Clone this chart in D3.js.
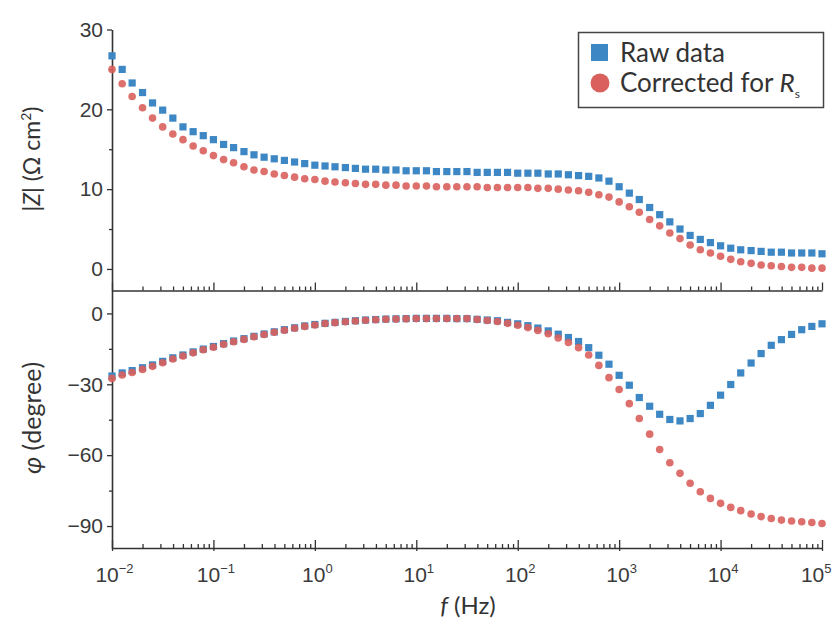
<!DOCTYPE html>
<html>
<head>
<meta charset="utf-8">
<script src="https://cdn.jsdelivr.net/npm/d3@7"></script>
<style>
  body { margin: 0; background: #fff; }
  svg { font-family: "Lato", "Open Sans", sans-serif; }
</style>
</head>
<body>
<div id="chartplace"></div>
<script>
// frequency grid (Hz), 10 points per decade
var freq = [
  0.01,0.0126,0.0158,0.02,0.0251,0.0316,0.0398,0.0501,0.0631,0.0794,
  0.1,0.126,0.158,0.2,0.251,0.316,0.398,0.501,0.631,0.794,
  1,1.26,1.58,2,2.51,3.16,3.98,5.01,6.31,7.94,
  10,12.6,15.8,20,25.1,31.6,39.8,50.1,63.1,79.4,
  100,126,158,200,251,316,398,501,631,794,
  1000,1260,1580,2000,2510,3160,3980,5010,6310,7940,
  10000,12600,15800,20000,25100,31600,39800,50100,63100,79400,
  100000
];
// |Z| raw
var zRaw = [
  26.7,25.0,23.3,22.1,20.8,19.9,18.9,17.8,17.2,16.7,
  16.2,15.6,15.2,14.7,14.3,14.0,13.8,13.6,13.4,13.2,
  13.0,12.9,12.8,12.7,12.6,12.5,12.5,12.4,12.4,12.3,
  12.3,12.3,12.2,12.2,12.2,12.2,12.1,12.1,12.1,12.1,
  12.0,12.0,12.0,11.9,11.9,11.8,11.7,11.6,11.4,11.0,
  10.3,9.5,8.7,7.7,6.8,5.9,5.0,4.2,3.7,3.3,
  2.9,2.6,2.4,2.3,2.2,2.1,2.1,2.0,2.0,2.0,
  1.9
];
// |Z| corrected for Rs
var zCorr = [
  25.0,23.2,21.6,20.2,18.9,17.8,16.9,16.2,15.4,14.8,
  14.2,13.7,13.3,12.8,12.4,12.2,11.9,11.7,11.5,11.3,
  11.2,11.0,10.9,10.8,10.7,10.6,10.6,10.5,10.5,10.4,
  10.4,10.4,10.3,10.3,10.3,10.3,10.3,10.2,10.2,10.2,
  10.2,10.2,10.1,10.1,10.0,9.9,9.8,9.6,9.3,9.0,
  8.4,7.8,7.1,6.2,5.4,4.5,3.8,3.0,2.4,2.0,
  1.6,1.2,0.9,0.7,0.5,0.4,0.3,0.2,0.2,0.1,
  0.1
];
// phase raw
var phRaw = [
  -26.5,-25.2,-24.2,-23.0,-21.8,-20.3,-18.8,-17.6,-16.3,-15.1,
  -14.0,-12.8,-11.7,-10.7,-9.7,-8.7,-7.8,-6.9,-6.1,-5.3,
  -4.7,-4.2,-3.8,-3.4,-3.1,-2.8,-2.6,-2.4,-2.3,-2.2,
  -2.1,-2.1,-2.1,-2.1,-2.2,-2.2,-2.5,-2.8,-3.1,-3.8,
  -4.4,-5.2,-6.2,-7.4,-8.8,-10.2,-11.9,-14.5,-17.7,-21.5,
  -26.2,-30.4,-35.6,-39.3,-42.7,-44.9,-45.5,-44.5,-42.4,-38.9,
  -34.6,-30.1,-25.2,-21.0,-17.0,-13.5,-11.1,-8.9,-6.9,-5.5,
  -4.4
];
// phase corrected
var phCorr = [
  -27.5,-26.1,-25.0,-23.7,-22.4,-20.9,-19.3,-18.0,-16.7,-15.4,
  -14.3,-13.1,-12.0,-11.0,-9.9,-8.9,-8.0,-7.1,-6.3,-5.5,
  -4.9,-4.3,-3.9,-3.5,-3.2,-2.9,-2.7,-2.5,-2.4,-2.3,
  -2.2,-2.2,-2.2,-2.2,-2.2,-2.2,-2.6,-3.0,-3.4,-4.2,
  -5.0,-6.0,-7.2,-8.6,-10.4,-12.3,-14.5,-17.6,-22.0,-27.2,
  -32.2,-38.2,-44.5,-51.1,-57.6,-63.2,-67.7,-71.9,-75.5,-78.3,
  -80.4,-82.1,-83.5,-84.9,-86.0,-86.8,-87.5,-87.9,-88.2,-88.5,
  -88.9
];
var zTicks = [0, 10, 20, 30];
var zMinor = [5, 15, 25];
var phTicks = [0, -30, -60, -90];
var phMinor = [-15, -45, -75];
var decades = [-2, -1, 0, 1, 2, 3, 4, 5];

var blue = "#3d87c4";
var red = "#d9605c";
var axisCol = "#333";

var width = 832, height = 626;
var svg = d3.select("#chartplace").append("svg")
  .attr("width", width).attr("height", height);

var x0 = 112, x1 = 822;
var sepY = 290.5;   // line between the two panels
var botY = 548;

var x = d3.scaleLog().domain([0.01, 100000]).range([x0, x1]);
var yZ = d3.scaleLinear().domain([-2.7, 30]).range([sepY, 29.5]);
var yP = d3.scaleLinear().domain([-99.3, 9.7]).range([botY, sepY]);

function styleAxis(g){
  g.selectAll("path").attr("stroke", axisCol).attr("stroke-width", 1.6);
  g.selectAll("line").attr("stroke", axisCol).attr("stroke-width", 1.3);
  g.selectAll("text").attr("fill", "#3a3a3a").attr("font-size", 21);
}

// minor frequencies (2..9 x 10^n)
var minorF = [];
x.ticks().forEach(function(t){
  var e = Math.log10(t);
  if (Math.abs(e - Math.round(e)) > 1e-6) minorF.push(t);
});
var majorF = decades.map(function(d){ return Math.pow(10, d); });

// left axis, top panel
svg.append("g").attr("transform", "translate(" + x0 + ",0)")
  .call(d3.axisLeft(yZ).tickValues(zTicks).tickSizeInner(5).tickSizeOuter(0).tickPadding(4))
  .call(styleAxis);
svg.append("g").attr("transform", "translate(" + x0 + ",0)")
  .call(d3.axisLeft(yZ).tickValues(zMinor).tickSize(3).tickFormat(""))
  .call(styleAxis).select("path").remove();

// left axis, bottom panel
svg.append("g").attr("transform", "translate(" + x0 + ",0)")
  .call(d3.axisLeft(yP).tickValues(phTicks).tickSizeInner(5).tickSizeOuter(0).tickPadding(4)
    .tickFormat(function(d){ return d < 0 ? "\u2212" + Math.abs(d) : d; }))
  .call(styleAxis);
svg.append("g").attr("transform", "translate(" + x0 + ",0)")
  .call(d3.axisLeft(yP).tickValues(phMinor).tickSize(3).tickFormat(""))
  .call(styleAxis).select("path").remove();

// separator axis (ticks into top panel)
svg.append("g").attr("transform", "translate(0," + sepY + ")")
  .call(d3.axisBottom(x).tickValues(majorF).tickSizeInner(-8).tickSizeOuter(0).tickFormat(""))
  .call(styleAxis);
svg.append("g").attr("transform", "translate(0," + sepY + ")")
  .call(d3.axisBottom(x).tickValues(minorF).tickSizeInner(-4).tickSizeOuter(0).tickFormat(""))
  .call(styleAxis).select("path").remove();

// bottom axis
var bx = svg.append("g").attr("transform", "translate(0," + botY + ")")
  .call(d3.axisBottom(x).tickValues(majorF).tickSizeInner(-8).tickSizeOuter(0).tickFormat(""))
  .call(styleAxis);
bx.selectAll(".tick line").attr("y2", 3).attr("y1", -8);
svg.append("g").attr("transform", "translate(0," + botY + ")")
  .call(d3.axisBottom(x).tickValues(minorF).tickSizeInner(-4).tickSizeOuter(0).tickFormat(""))
  .call(styleAxis).select("path").remove();

// power-of-ten labels (last one kept inside the picture)
var lab = bx.selectAll(".tick").append("text")
  .attr("y", 34)
  .attr("text-anchor", function(d, i){ return i === decades.length - 1 ? "end" : "middle"; })
  .attr("x", function(d, i){ return i === decades.length - 1 ? 9 : 2; })
  .attr("fill", "#3a3a3a").attr("font-size", 21);
lab.append("tspan").text("10");
lab.append("tspan").attr("dy", -9).attr("font-size", 13)
  .text(function(d){ var e = Math.round(Math.log10(d)); return e < 0 ? "\u2212" + Math.abs(e) : e; });

// data points
function squares(vals, yScale){
  svg.append("g").selectAll("rect").data(vals).enter().append("rect")
    .attr("x", function(d, i){ return x(freq[i]) - 3.6; })
    .attr("y", function(d){ return yScale(d) - 3.6; })
    .attr("width", 7.2).attr("height", 7.2)
    .attr("fill", blue);
}
function circles(vals, yScale){
  svg.append("g").selectAll("circle").data(vals).enter().append("circle")
    .attr("cx", function(d, i){ return x(freq[i]); })
    .attr("cy", function(d){ return yScale(d); })
    .attr("r", 3.8)
    .attr("fill", red).attr("fill-opacity", 0.9);
}
squares(zRaw, yZ);
circles(zCorr, yZ);
squares(phRaw, yP);
circles(phCorr, yP);

// axis titles
var zl = svg.append("text").attr("transform", "translate(40,159) rotate(-90)")
  .attr("text-anchor", "middle").attr("font-size", 23).attr("fill", "#333");
zl.append("tspan").text("|");
zl.append("tspan").attr("font-style", "italic").text("Z");
zl.append("tspan").text("| (\u03A9 cm");
zl.append("tspan").attr("dy", -9).attr("font-size", 14).text("2");
zl.append("tspan").attr("dy", 9).text(")");

var pl = svg.append("text").attr("transform", "translate(41,418) rotate(-90)")
  .attr("text-anchor", "middle").attr("font-size", 25).attr("fill", "#333");
pl.append("tspan").attr("font-style", "italic").text("\u03C6");
pl.append("tspan").text(" (degree)");

var fl = svg.append("text").attr("x", 468).attr("y", 614)
  .attr("text-anchor", "middle").attr("font-size", 24).attr("fill", "#333");
fl.append("tspan").attr("font-style", "italic").text("f");
fl.append("tspan").text(" (Hz)");

// legend
var lg = svg.append("g");
lg.append("rect").attr("x", 578.5).attr("y", 32.5).attr("width", 245).attr("height", 75)
  .attr("fill", "#fff").attr("stroke", "#444").attr("stroke-width", 1.5);
lg.append("rect").attr("x", 591).attr("y", 44).attr("width", 17).attr("height", 17).attr("fill", blue);
lg.append("circle").attr("cx", 600).attr("cy", 83).attr("r", 9.5).attr("fill", red);
lg.append("text").attr("x", 620).attr("y", 62).attr("font-size", 26).attr("fill", "#333").text("Raw data");
var lt = lg.append("text").attr("x", 620).attr("y", 92).attr("font-size", 26).attr("fill", "#333");
lt.append("tspan").text("Corrected for ");
lt.append("tspan").attr("font-style", "italic").text("R");
lt.append("tspan").attr("dy", 6).attr("font-size", 12).text("s");
</script>
</body>
</html>
